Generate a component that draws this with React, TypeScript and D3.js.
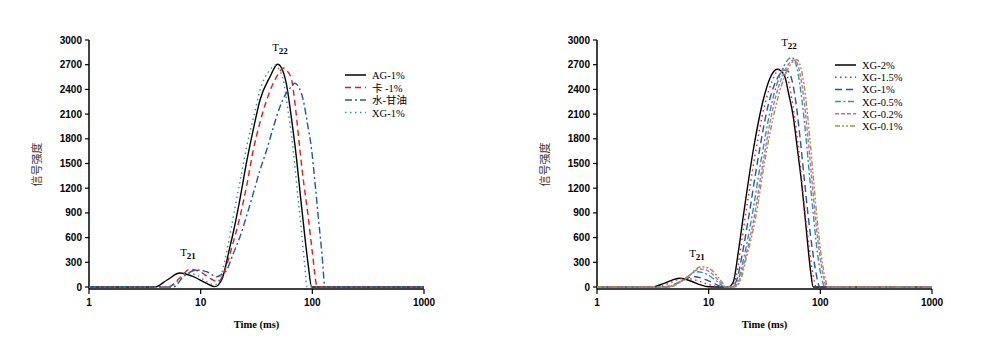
import React, { useEffect, useRef } from 'react';
import * as d3 from 'd3';

type Pt = [number, number];

// x ticks (log time) and y ticks
const xTicks = [1, 10, 100, 1000];
const yTicks = [0, 300, 600, 900, 1200, 1500, 1800, 2100, 2400, 2700, 3000];

// left panel
const leftNames = ['AG-1%', '卡 -1%', '水-甘油', 'XG-1%'];
const ag1: Pt[] = [
  [1, 0], [3.9, 0], [5, 85], [6.5, 170], [8.6, 125], [11.3, 45], [13.4, 4], [15.4, 85],
  [18.3, 490], [19.5, 650], [22, 1000], [26, 1543], [30, 1950], [34, 2271], [41.7, 2551],
  [48.9, 2705], [53, 2660], [58.9, 2450], [65, 2050], [72.3, 1550], [79, 1050], [85.9, 600],
  [92, 260], [98.6, 0], [1000, 0],
];
const ka1: Pt[] = [
  [1, 0], [5.1, 0], [6.5, 109], [8.0, 215], [9.9, 186], [12.1, 106], [14.4, 64], [16.5, 206],
  [19, 480], [22.5, 854], [26, 1250], [29.6, 1664], [34, 2000], [39, 2271], [47.9, 2554],
  [55.5, 2660], [60, 2620], [65.3, 2514], [71, 2150], [77.4, 1664], [84, 1250], [91.9, 854],
  [100, 420], [111, 0], [1000, 0],
];
const waterGly: Pt[] = [
  [1, 0], [5.7, 0], [7.0, 125], [9.2, 206], [11.3, 186], [13.9, 125], [15.9, 166], [17, 200],
  [19.5, 400], [22.5, 611], [26, 880], [29.6, 1138], [34, 1420], [39, 1664], [45, 1950],
  [51.3, 2190], [57, 2330], [63, 2413], [69.9, 2474], [76, 2420], [82.9, 2271], [90, 2000],
  [98.6, 1664], [106, 1250], [113, 854], [122, 400], [130, 0], [1000, 0],
];
const xg1Left: Pt[] = [
  [1, 0], [5.5, 0], [6.1, 64], [7.5, 166], [9.2, 146], [11.3, 64], [13.4, 24], [15.4, 166],
  [17.7, 530], [19.6, 854], [22.5, 1280], [25.8, 1704], [30, 2080], [34, 2393], [41.7, 2636],
  [46.3, 2696], [50, 2650], [54.9, 2514], [60.5, 2150], [67.4, 1664], [73.5, 1150], [80.2, 656],
  [85, 300], [90, 0], [1000, 0],
];

// right panel
const rightNames = ['XG-2%', 'XG-1.5%', 'XG-1%', 'XG-0.5%', 'XG-0.2%', 'XG-0.1%'];
const xg2: Pt[] = [
  [1, 0], [3.1, 0], [4, 45], [5.5, 106], [7, 70], [8.5, 25], [9.9, 3], [13.5, 0], [15, 0],
  [16.6, 60], [18.4, 420], [20.4, 854], [25.1, 1664], [30.8, 2271], [35.4, 2535], [41.1, 2644],
  [44, 2630], [48.2, 2554], [52, 2350], [57.2, 2069], [62, 1700], [68, 1260], [73, 850],
  [78, 449], [82, 180], [86.4, 0], [1000, 0],
];
const xg15: Pt[] = [
  [1, 0], [3.5, 0], [4.5, 50], [6, 110], [7.8, 80], [10, 30], [13, 0], [15, 0], [17, 60],
  [19, 400], [21, 800], [26, 1600], [32, 2230], [37, 2500], [44.4, 2660], [48, 2630],
  [52, 2500], [56, 2250], [61, 1900], [67, 1400], [73, 900], [80, 450], [86, 150], [92, 0],
  [1000, 0],
];
const xg1Right: Pt[] = [
  [1, 0], [4, 0], [5.5, 60], [7.3, 128], [9, 100], [11, 50], [13.5, 0], [15.5, 0], [17.5, 60],
  [20, 400], [22.5, 800], [28, 1600], [34, 2200], [40, 2500], [49.2, 2636], [53, 2600],
  [57, 2450], [61, 2200], [66, 1800], [72, 1300], [78, 850], [85, 450], [92, 150], [99, 0],
  [1000, 0],
];
const xg05: Pt[] = [
  [1, 0], [4.2, 0], [5.8, 80], [7.8, 186], [9.8, 150], [11.8, 70], [14, 0], [16, 0], [18, 60],
  [21, 400], [24, 800], [30, 1600], [37, 2250], [45, 2620], [55.3, 2790], [59, 2750],
  [63, 2600], [68, 2300], [74, 1850], [80, 1350], [87, 850], [94, 420], [102, 130], [110, 0],
  [1000, 0],
];
const xg02: Pt[] = [
  [1, 0], [4.3, 0], [6, 90], [8.4, 219], [10.3, 180], [12.3, 80], [14.2, 0], [16.5, 0],
  [18.5, 60], [21.5, 380], [25, 780], [31, 1550], [38, 2200], [47, 2600], [58, 2757],
  [62, 2720], [66, 2580], [71, 2300], [77, 1850], [84, 1300], [91, 800], [99, 380],
  [107, 120], [114, 0], [1000, 0],
];
const xg01: Pt[] = [
  [1, 0], [4.4, 0], [6.2, 100], [8.6, 247], [10.5, 210], [12.5, 100], [14.5, 0], [17, 0],
  [19, 60], [22, 380], [26, 800], [32, 1550], [40, 2200], [50, 2620], [61.6, 2760],
  [65, 2720], [69, 2580], [74, 2300], [80, 1850], [87, 1300], [94, 800], [102, 380],
  [110, 120], [117, 0], [1000, 0],
];

interface Series { name: string; data: Pt[]; color: string; dash: string; }

const leftSeries: Series[] = [
  { name: leftNames[0], data: ag1, color: '#000000', dash: '' },
  { name: leftNames[1], data: ka1, color: '#f01414', dash: '6,4' },
  { name: leftNames[2], data: waterGly, color: '#1e56b4', dash: '7,3,2,3' },
  { name: leftNames[3], data: xg1Left, color: '#2a9a8c', dash: '1.5,3.5' },
];
const rightSeries: Series[] = [
  { name: rightNames[0], data: xg2, color: '#000000', dash: '' },
  { name: rightNames[1], data: xg15, color: '#f01414', dash: '1.5,3.5' },
  { name: rightNames[2], data: xg1Right, color: '#1e56b4', dash: '7,4' },
  { name: rightNames[3], data: xg05, color: '#2a9a9a', dash: '6,2.5,2,2.5' },
  { name: rightNames[4], data: xg02, color: '#cc5fcc', dash: '4,2' },
  { name: rightNames[5], data: xg01, color: '#9a9a3a', dash: '5,2,2,2,2,2' },
];

const W = 1000;
const H = 355;
const yTop = 40;
const yZero = 287;
const axisY = 289;

function drawPanel(svg: d3.Selection<SVGSVGElement, unknown, null, undefined>, cfg: {
  x0: number; x1: number; series: Series[]; legendX: number; legendY: number; legendStep: number;
  t22: [number, number]; t21: [number, number];
}) {
  const g = svg.append('g');
  const x = d3.scaleLog().domain([1, 1000]).range([cfg.x0, cfg.x1]);
  const y = d3.scaleLinear().domain([0, 3000]).range([yZero, yTop]);

  // axes
  g.append('line').attr('x1', cfg.x0).attr('x2', cfg.x0).attr('y1', yTop).attr('y2', axisY)
    .attr('stroke', '#000').attr('stroke-width', 1.5);
  g.append('line').attr('x1', cfg.x0).attr('x2', cfg.x1).attr('y1', axisY).attr('y2', axisY)
    .attr('stroke', '#000').attr('stroke-width', 1.5);

  yTicks.forEach(v => {
    g.append('line').attr('x1', cfg.x0 - 4).attr('x2', cfg.x0).attr('y1', y(v)).attr('y2', y(v))
      .attr('stroke', '#000').attr('stroke-width', 1.2);
    g.append('text').attr('x', cfg.x0 - 7).attr('y', y(v) + 3.5).attr('text-anchor', 'end')
      .attr('font-family', 'Liberation Sans, Arial, sans-serif').attr('font-weight', 'bold')
      .attr('font-size', 10).text(v);
  });
  xTicks.forEach(v => {
    g.append('line').attr('x1', x(v)).attr('x2', x(v)).attr('y1', axisY).attr('y2', axisY + 5)
      .attr('stroke', '#000').attr('stroke-width', 1.2);
    g.append('text').attr('x', x(v)).attr('y', axisY + 17).attr('text-anchor', 'middle')
      .attr('font-family', 'Liberation Sans, Arial, sans-serif').attr('font-weight', 'bold')
      .attr('font-size', 10).text(v);
  });

  g.append('text').attr('x', (cfg.x0 + cfg.x1) / 2).attr('y', 328).attr('text-anchor', 'middle')
    .attr('font-family', 'Liberation Serif, Times New Roman, serif').attr('font-weight', 'bold')
    .attr('font-size', 10.5).text('Time (ms)');

  g.append('text').attr('transform', `translate(${cfg.x0 - 48},${(yTop + axisY) / 2}) rotate(-90)`)
    .attr('text-anchor', 'middle').attr('font-family', 'Noto Sans CJK SC, sans-serif')
    .attr('font-size', 11).attr('fill', '#333').text('信号强度');

  // curves
  const line = d3.line<Pt>().x(d => x(d[0])).y(d => y(d[1])).curve(d3.curveMonotoneX);
  cfg.series.forEach(s => {
    g.append('path').datum(s.data).attr('d', line).attr('fill', 'none')
      .attr('stroke', s.color).attr('stroke-width', 1.4)
      .attr('stroke-dasharray', s.dash || null);
  });

  // legend
  cfg.series.forEach((s, i) => {
    const ly = cfg.legendY + i * cfg.legendStep;
    g.append('line').attr('x1', cfg.legendX).attr('x2', cfg.legendX + 21).attr('y1', ly).attr('y2', ly)
      .attr('stroke', s.color).attr('stroke-width', 1.5).attr('stroke-dasharray', s.dash || null);
    g.append('text').attr('x', cfg.legendX + 27).attr('y', ly + 4)
      .attr('font-family', 'Liberation Serif, Noto Sans CJK SC, serif')
      .attr('font-size', 10.5).text(s.name);
  });

  // peak labels
  const peak = (pos: [number, number], sub: string) => {
    const t = g.append('text').attr('x', pos[0]).attr('y', pos[1]).attr('text-anchor', 'middle')
      .attr('font-family', 'Liberation Serif, Times New Roman, serif').attr('font-size', 11);
    t.append('tspan').text('T');
    t.append('tspan').attr('dy', 3).attr('font-size', 9).attr('font-weight', 'bold').text(sub);
  };
  peak(cfg.t22, '22');
  peak(cfg.t21, '21');
}

const App = () => {
  const ref = useRef<SVGSVGElement>(null);

  useEffect(() => {
    const svg = d3.select(ref.current!);
    svg.selectAll('*').remove();
    drawPanel(svg, {
      x0: 89, x1: 424, series: leftSeries, legendX: 345, legendY: 75, legendStep: 12.5,
      t22: [280, 51], t21: [188, 256],
    });
    drawPanel(svg, {
      x0: 597, x1: 932, series: rightSeries, legendX: 835, legendY: 65, legendStep: 12.2,
      t22: [789, 46], t21: [697, 257],
    });
  }, []);

  return (
    <svg ref={ref} width={W} height={H}
      style={{ position: 'absolute', left: 0, top: 0, background: '#fff' }} />
  );
};

export default App;
